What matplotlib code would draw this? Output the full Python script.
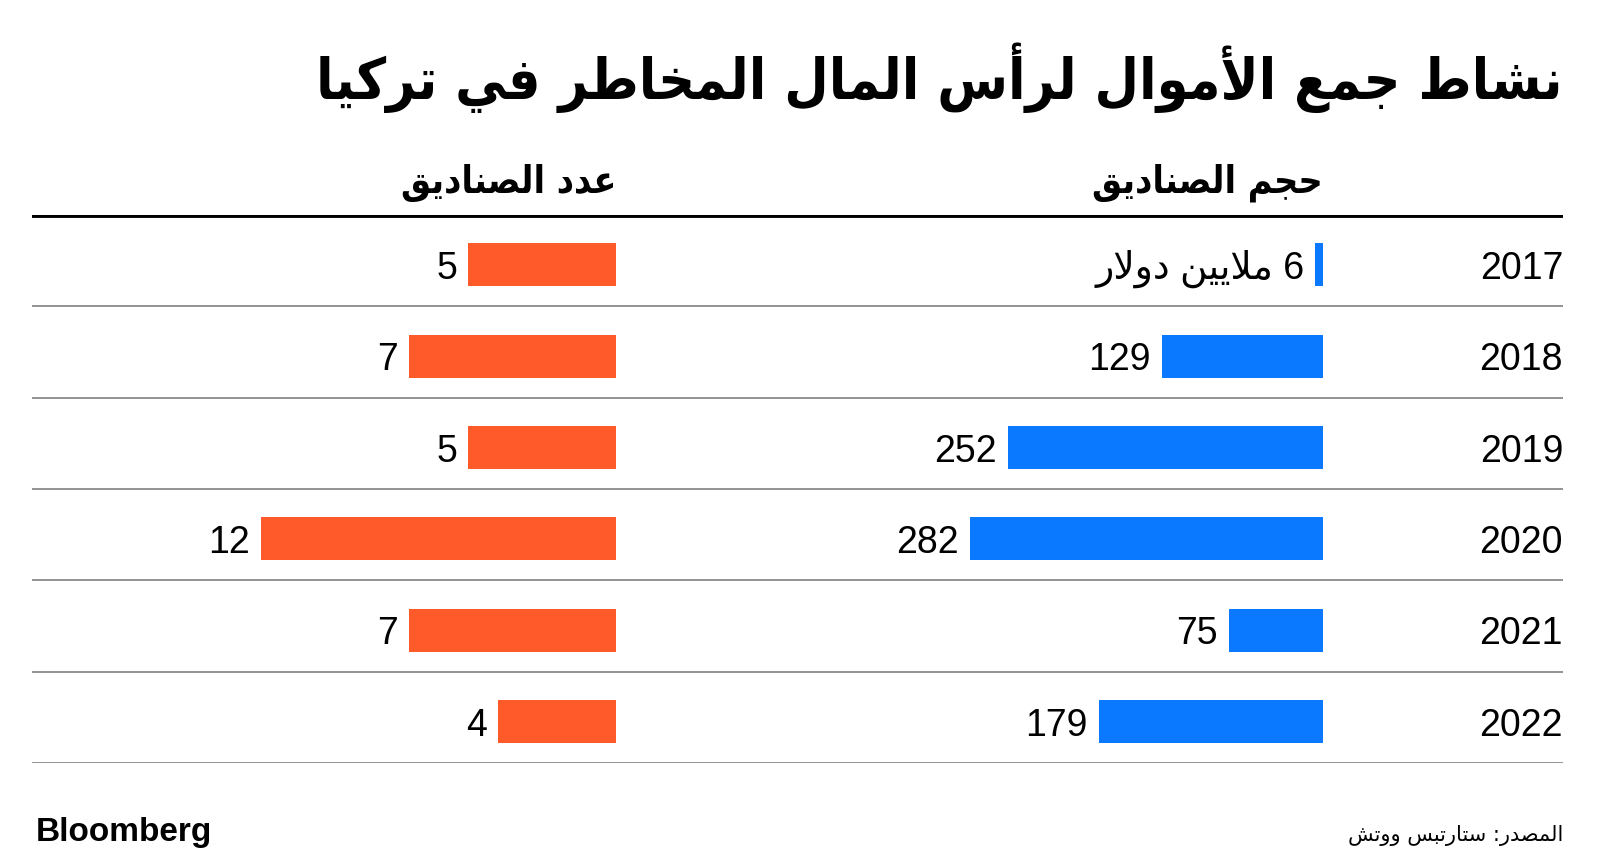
import re
import matplotlib
matplotlib.use("Agg")
import matplotlib.pyplot as plt

# ---- data ----
years = ["2017", "2018", "2019", "2020", "2021", "2022"]
fund_size = [6, 129, 252, 282, 75, 179]          # million USD
fund_count = [5, 7, 5, 12, 7, 4]
size_labels = ["6 ملايين دولار", "129", "252", "282", "75", "179"]

title = "نشاط جمع الأموال لرأس المال المخاطر في تركيا"
head_count = "عدد الصناديق"
head_size = "حجم الصناديق"
source = "المصدر: ستارتبس ووتش"

ORANGE = "#FF5A2A"
BLUE = "#0A78FF"

# ---- minimal arabic shaping (matplotlib has no bidi / joining) ----
# isolated, final, initial, medial
FORMS = {
    "ا": ("\uFE8D", "\uFE8E", None, None),
    "أ": ("\uFE83", "\uFE84", None, None),
    "ب": ("\uFE8F", "\uFE90", "\uFE91", "\uFE92"),
    "ت": ("\uFE95", "\uFE96", "\uFE97", "\uFE98"),
    "ج": ("\uFE9D", "\uFE9E", "\uFE9F", "\uFEA0"),
    "ح": ("\uFEA1", "\uFEA2", "\uFEA3", "\uFEA4"),
    "خ": ("\uFEA5", "\uFEA6", "\uFEA7", "\uFEA8"),
    "د": ("\uFEA9", "\uFEAA", None, None),
    "ر": ("\uFEAD", "\uFEAE", None, None),
    "س": ("\uFEB1", "\uFEB2", "\uFEB3", "\uFEB4"),
    "ش": ("\uFEB5", "\uFEB6", "\uFEB7", "\uFEB8"),
    "ص": ("\uFEB9", "\uFEBA", "\uFEBB", "\uFEBC"),
    "ط": ("\uFEC1", "\uFEC2", "\uFEC3", "\uFEC4"),
    "ع": ("\uFEC9", "\uFECA", "\uFECB", "\uFECC"),
    "ف": ("\uFED1", "\uFED2", "\uFED3", "\uFED4"),
    "ق": ("\uFED5", "\uFED6", "\uFED7", "\uFED8"),
    "ك": ("\uFED9", "\uFEDA", "\uFEDB", "\uFEDC"),
    "ل": ("\uFEDD", "\uFEDE", "\uFEDF", "\uFEE0"),
    "م": ("\uFEE1", "\uFEE2", "\uFEE3", "\uFEE4"),
    "ن": ("\uFEE5", "\uFEE6", "\uFEE7", "\uFEE8"),
    "و": ("\uFEED", "\uFEEE", None, None),
    "ي": ("\uFEF1", "\uFEF2", "\uFEF3", "\uFEF4"),
    "لا": ("\uFEFB", "\uFEFC", None, None),
    "لأ": ("\uFEF7", "\uFEF8", None, None),
}


def shape(text):
    toks = []
    i = 0
    while i < len(text):
        if text[i] == "ل" and i + 1 < len(text) and text[i + 1] in "اأ":
            toks.append(text[i:i + 2])
            i += 2
        else:
            toks.append(text[i])
            i += 1
    out = []
    for k, t in enumerate(toks):
        if t not in FORMS:
            out.append(t)
            continue
        prev = toks[k - 1] if k > 0 else None
        nxt = toks[k + 1] if k + 1 < len(toks) else None
        j_prev = prev in FORMS and FORMS[prev][2] is not None
        j_next = FORMS[t][2] is not None and nxt in FORMS
        f = FORMS[t]
        if j_prev and j_next:
            out.append(f[3])
        elif j_prev:
            out.append(f[1])
        elif j_next:
            out.append(f[2])
        else:
            out.append(f[0])
    vis = "".join(out)[::-1]
    # digits keep left-to-right order
    return re.sub(r"[0-9]+", lambda m: m.group(0)[::-1], vis)


W, H = 1600, 861
fig = plt.figure(figsize=(W / 100, H / 100), dpi=100)
fig.patch.set_facecolor("white")


def box(x0, y0, x1, y1):
    # pixel box (top-left origin) -> figure fraction
    return [x0 / W, 1 - y1 / H, (x1 - x0) / W, (y1 - y0) / H]


TOP, BOT = 215, 763
rows = list(range(len(years)))
BAR_Y = [r + 0.045 for r in rows]
TXT_Y = [r + 0.09 for r in rows]

# main axes: rules and year labels
ax = fig.add_axes(box(32, TOP, 1563, BOT))
ax.set_xlim(0, 1)
ax.set_ylim(len(years) - 0.5, -0.5)
ax.axis("off")
ax.axhline(-0.5, color="black", lw=3.5)
for r in rows:
    ax.axhline(r + 0.5, color="#8a8a8a", lw=1.3)
for ty, y in zip(TXT_Y, years):
    ax.text(1.0, ty, y, ha="right", va="center", fontsize=27,
            family="Liberation Sans", color="black")

# left panel: number of funds
axl = fig.add_axes(box(32, TOP, 616, BOT))
axl.barh(BAR_Y, fund_count, height=0.47, color=ORANGE)
axl.set_xlim(12 * 584 / 355, 0)
axl.set_ylim(len(years) - 0.5, -0.5)
axl.axis("off")
for ty, v in zip(TXT_Y, fund_count):
    axl.annotate(str(v), (v, ty), xytext=(-8, 0), textcoords="offset points",
                 ha="right", va="center", fontsize=27, family="Liberation Sans")

# right panel: fund size
axr = fig.add_axes(box(640, TOP, 1323, BOT))
axr.barh(BAR_Y, fund_size, height=0.47, color=BLUE)
axr.set_xlim(282 * 683 / 353, 0)
axr.set_ylim(len(years) - 0.5, -0.5)
axr.axis("off")
for ty, v, lab in zip(TXT_Y, fund_size, size_labels):
    axr.annotate(shape(lab), (v, ty), xytext=(-8, 0), textcoords="offset points",
                 ha="right", va="center", fontsize=27,
                 family=["Liberation Sans", "DejaVu Sans"])

# headers
fig.text(616 / W, 1 - 183 / H, shape(head_count), ha="right", va="center",
         fontsize=27, fontweight="bold", family="DejaVu Sans",
         fontstretch="condensed")
fig.text(1323 / W, 1 - 183 / H, shape(head_size), ha="right", va="center",
         fontsize=27, fontweight="bold", family="DejaVu Sans",
         fontstretch="condensed")

# title
fig.text(1563 / W, 1 - 78 / H, shape(title), ha="right", va="center",
         fontsize=41, fontweight="bold", family="DejaVu Sans",
         fontstretch="condensed")

# footer
fig.text(36 / W, 1 - 832 / H, "Bloomberg", ha="left", va="center",
         fontsize=24, fontweight="bold", family="Liberation Sans")
fig.text(1563 / W, 1 - 836 / H, shape(source), ha="right", va="center",
         fontsize=15, family="DejaVu Sans")

fig.savefig("out.png", dpi=100, facecolor="white")
